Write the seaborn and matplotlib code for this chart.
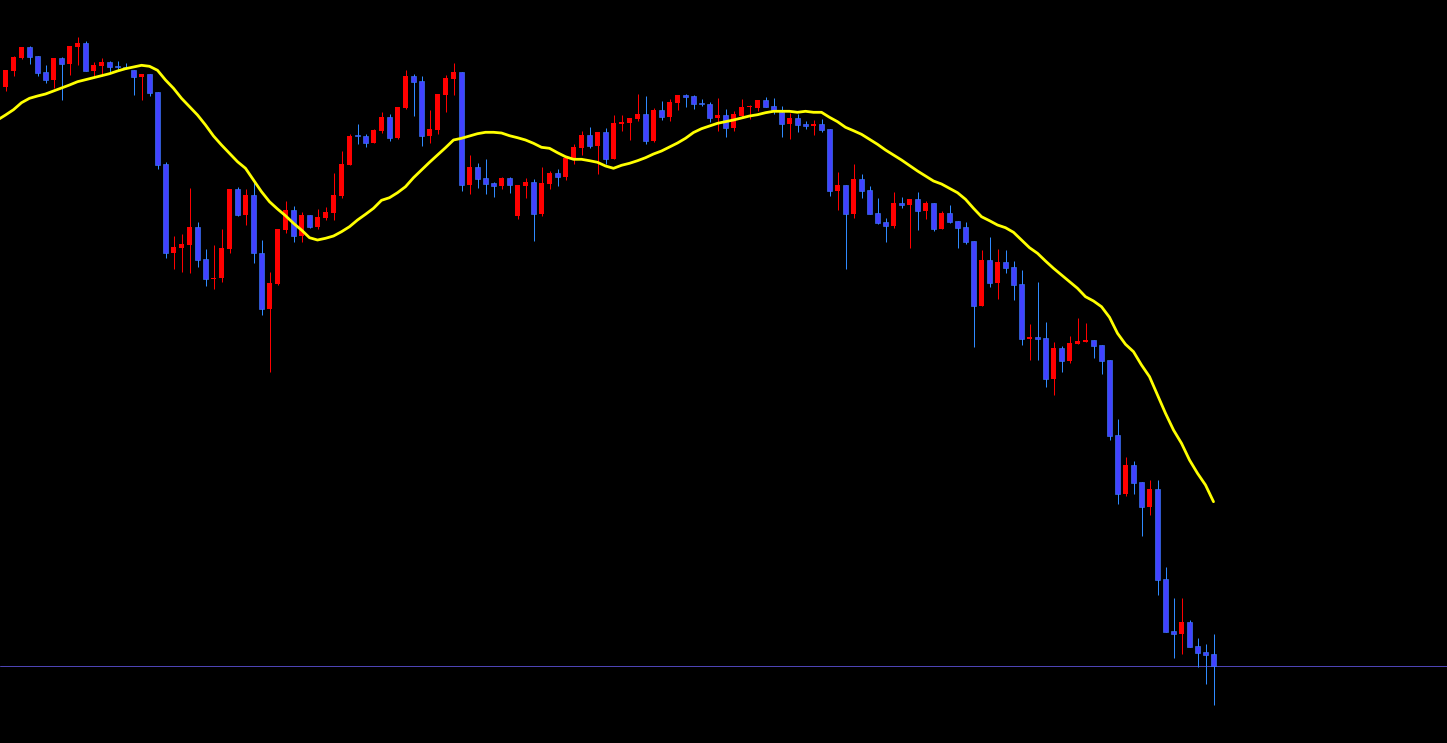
import numpy as np
import pandas as pd
import matplotlib
matplotlib.use("Agg")
import matplotlib.pyplot as plt
import seaborn as sns

# OHLC (price units, one candle per bar)
opens = [913.3, 929.3, 942, 952.7, 944, 928, 920, 942, 936, 953,
         957, 929.3, 934, 938, 933.3, 933, 930.3, 923.3, 926, 908,
         836, 747.3, 752, 755.3, 773, 741, 721.3, 722.3, 751.3, 811,
         785, 805, 746.7, 690.7, 716.3, 770, 790, 764.3, 785, 773,
         782, 787, 804, 835, 864.3, 864, 857, 869, 883, 862,
         892, 924, 919, 864, 870, 905, 921, 928, 815, 833,
         822, 817, 814, 822, 784, 814, 818, 786, 816, 827,
         823, 841, 852, 865, 854, 868, 841, 876, 877, 881,
         886, 859, 890, 883, 897, 905, 904, 896.3, 896, 882,
         885, 872, 884, 892.7, 892, 900, 894, 888, 876, 882,
         876, 874, 876, 871, 809, 815, 786, 821, 810, 787,
         778, 774, 797, 795, 801, 789, 797, 771, 787, 779,
         773, 759, 694, 740, 717, 738, 733, 716, 661, 663,
         662, 621, 652, 639, 656, 658, 660, 655, 640, 565,
         506, 535, 518, 493, 511, 421, 369, 366, 378, 354,
         348, 346]

highs = [930, 944, 953, 954, 944, 935, 942, 943, 954, 963,
         959, 938, 942, 939, 939, 937, 930.3, 926, 926, 908,
         838, 764, 766, 812, 778, 751, 755, 771, 811, 813,
         811, 820, 760, 728, 771, 799, 794, 788, 785, 791,
         793, 827, 849, 866, 876, 866, 871, 888, 886, 893,
         930, 926, 924, 890, 906, 925, 937, 928, 845, 837,
         841, 818, 823, 823, 815, 822, 821, 833, 829, 831,
         844, 856, 869, 873, 868, 872, 885, 885, 882, 906,
         904, 892, 899, 901, 905, 906, 905, 901, 898, 902,
         891, 889, 901, 895, 900, 903, 902, 894, 887, 886,
         879, 880, 881, 871, 828, 815, 836, 826, 814, 802,
         782, 808, 803, 801, 808, 799, 797, 789, 795, 779,
         778, 759, 750, 763, 751, 750, 739, 730, 676, 718,
         678, 658, 654, 664, 682, 677, 660, 655, 640, 581,
         543, 539, 518, 520, 520, 433, 402, 402, 380, 362,
         356, 366]

lows = [909.3, 924.3, 941, 936.3, 924.3, 917, 911.7, 900, 925, 935,
        929.3, 924, 924.3, 927.7, 929, 931, 905, 900, 904, 831.3,
        742.3, 731.3, 728, 727.3, 733.3, 714.3, 711.3, 718.3, 747.3, 784,
        775, 736.7, 684.7, 628.3, 715, 767.3, 758.3, 758.3, 772, 771,
        780, 780, 802, 835, 856, 853, 857, 867, 859, 861,
        891, 884, 854, 857, 866, 888, 905, 809, 806, 812,
        806, 803, 811, 807, 781, 802, 759, 784, 811, 814,
        820, 836, 845, 852, 826, 836, 841, 869, 860, 879,
        856, 858, 880, 879, 890, 893, 891, 894, 878, 869,
        863, 869, 883, 881, 889, 893, 886, 863, 861, 868,
        871, 865, 868, 804, 790, 731, 782, 802, 786, 776,
        758, 772, 792, 752, 770, 781, 769, 771, 777, 752,
        756, 653, 694, 713, 701, 727, 700, 655, 640, 640,
        613, 605, 628, 637, 656, 658, 642, 626, 560, 496,
        504, 506, 464, 485, 405, 368, 342, 346, 353, 333,
        316, 295]

closes = [930, 943, 953, 943.3, 927.3, 920.3, 942, 936.3, 954, 957,
          929.3, 935, 938, 933.3, 933, 932.3, 923.3, 926, 907.3, 835.3,
          747.3, 753, 756, 773, 740.3, 721.3, 722.3, 752, 811, 785,
          805, 746.7, 690.7, 716.7, 770.7, 790, 764.3, 785, 773, 783,
          788, 805, 836, 864, 863.7, 857, 870, 883, 862, 893,
          924, 918.3, 864, 871, 906, 922, 928, 815, 833, 821,
          816, 814.3, 822, 815, 815, 818, 786, 817, 827, 823,
          842, 853, 865, 854, 868, 841, 877, 878, 882, 886,
          859, 890, 883, 898, 905, 903, 896, 895.7, 882, 885,
          872, 886, 893, 893.3, 900, 893, 890, 876, 882, 875,
          874, 876, 870, 809, 815, 786, 821, 809, 786, 777,
          774, 797, 795, 801, 789, 797, 771, 787, 778, 772,
          758, 694, 740, 717, 738, 732, 715, 661, 663, 661,
          621, 652, 639, 657, 659, 660, 654, 639, 564, 506,
          535, 517, 493, 511, 420, 368, 366, 378, 353, 347,
          345, 333.7]

# moving average as drawn; first value sits one bar left of the first candle
ma_values = [880,
             885, 890.3, 897.3, 901.7, 904, 906, 909, 912, 915, 918.3,
             920.3, 922.3, 924.3, 926.3, 929, 931.3, 933, 934.7, 933.7, 929.7,
             920, 911.7, 901.7, 893.3, 885, 875, 864, 855, 846.7, 838.3,
             831.7, 820, 808.3, 798.3, 791, 784.3, 776.7, 770, 762.3, 760,
             761.7, 764, 768.3, 773.3, 780, 785.7, 791.7, 799.7, 802.3, 807.3,
             813.3, 822.3, 830, 837.7, 845, 852.3, 860, 861.7, 864, 866.3,
             867.7, 867.7, 867, 864.3, 862.3, 860, 856.7, 852.7, 851.7, 847.3,
             843.3, 840.7, 840.7, 839.3, 837.7, 834, 831.7, 834.7, 836.7, 839.3,
             842.3, 846, 849, 853, 857, 861.7, 867.5, 871.3, 874, 876.7,
             878.3, 880, 882, 884, 885.3, 887.3, 888.7, 888.7, 888.7, 887.7,
             888.7, 887.7, 887.7, 882.7, 878.3, 872.7, 869.3, 865.7, 860.7, 855.7,
             850, 845, 840, 834.5, 829, 824, 819, 816, 811.7, 807.3,
             800.7, 791.7, 783.3, 779.3, 775, 772.3, 767.7, 760, 752.3, 746.7,
             739, 731.7, 725, 718.3, 711.7, 703.3, 699, 693.3, 682.7, 666.7,
             655.7, 648.3, 635, 623.3, 605, 586.7, 570, 556.7, 540, 526.7,
             515, 498.3]

BULL = "#ff0000"
BEAR_FILL = "#4242ff"
BEAR_EDGE = "#3a7cff"
BEAR_WICK = "#2f8aff"
MA_COLOR = "#ffff00"
BID_COLOR = "#4d44b4"

df = pd.DataFrame({"open": opens, "high": highs, "low": lows, "close": closes})
df["bar"] = np.arange(len(df))
up = (df["close"] >= df["open"]).to_numpy()
body_lo = np.minimum(df["open"], df["close"]).to_numpy()
body_h = np.maximum(np.abs(df["close"] - df["open"]).to_numpy(), 1.0)

sns.set_style("dark", {"axes.facecolor": "black", "figure.facecolor": "black"})
fig = plt.figure(figsize=(14.47, 7.43), dpi=100, facecolor="black")
ax = fig.add_axes([0, 0, 1, 1])
ax.set_facecolor("black")
px = 72 / 100  # one pixel in points

# wicks
ax.vlines(df["bar"], df["low"], df["high"],
          colors=np.where(up, BULL, BEAR_WICK), linewidth=px, zorder=2)

# bodies
x = df["bar"].to_numpy()
ax.bar(x[up], body_h[up], bottom=body_lo[up], width=0.62,
       color=BULL, linewidth=0, zorder=3)
ax.bar(x[~up], body_h[~up], bottom=body_lo[~up], width=0.56,
       color=BEAR_FILL, edgecolor=BEAR_EDGE, linewidth=px * 0.6, zorder=3)

# moving average
ma_x = np.arange(-1, len(ma_values) - 1)
sns.lineplot(x=ma_x, y=ma_values, color=MA_COLOR, linewidth=2.0, ax=ax, zorder=4)

# bid line at last close
ax.axhline(closes[-1], color=BID_COLOR, linewidth=px, zorder=1)

ax.set_xlim(-0.6875, 180.1875)
ax.set_ylim(257, 1000)
ax.set_axis_off()

fig.savefig("out.png", dpi=100, facecolor="black")
